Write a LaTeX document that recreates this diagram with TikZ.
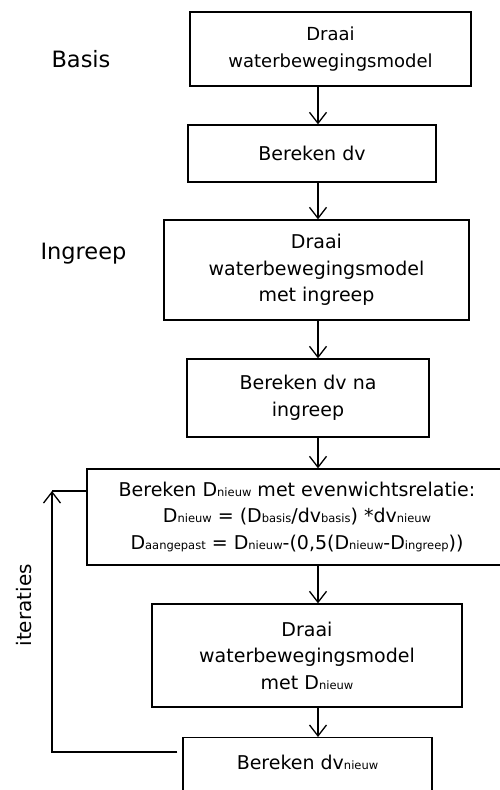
\documentclass[tikz,border=0pt]{standalone}
\usepackage{fontspec}
\setmainfont{DejaVu Sans}
\usetikzlibrary{arrows.meta}
\newcommand{\idx}[1]{{\fontsize{11.5}{11.5}\selectfont #1}}

\begin{document}
\begin{tikzpicture}[x=1pt,y=-1pt,
		stap/.style={draw, line width=1.3pt, inner sep=0pt, align=center, font=\fontsize{19}{26.5}\selectfont},
		kop/.style={font=\fontsize{22.5}{27}\selectfont, anchor=base west},
		pijl/.style={line width=1.3pt, -{Straight Barb[length=11pt,width=17pt]}}]
		\clip (0,0) rectangle (500,790);
		\node[kop] (basis) at (48,67) {Basis};
		\node[kop] (ingreep) at (37,259) {Ingreep};
		\node[font=\fontsize{20}{24}\selectfont, rotate=90, anchor=base west] (iter) at (31,650) {iteraties};
		\node[stap, font=\fontsize{18}{26.5}\selectfont, minimum width=281, minimum height=74] (model) at (330.5,49) {Draai\\waterbewegingsmodel};
		\node[stap, minimum width=248, minimum height=57] (dv) at (312,153.5) {Bereken dv};
		\node[stap, minimum width=305, minimum height=100] (ingreepmodel) at (316.5,270) {Draai\\waterbewegingsmodel\\met ingreep};
		\node[stap, minimum width=242, minimum height=78] (dvingreep) at (308,398) {Bereken dv na\\ingreep};
		\node[stap, minimum width=420, minimum height=96] (relatie) at (297,517) {Bereken D\idx{nieuw} met evenwichtsrelatie:\\D\idx{nieuw} = (D\idx{basis}/dv\idx{basis}) *dv\idx{nieuw}\\D\idx{aangepast} = D\idx{nieuw}-(0,5(D\idx{nieuw}-D\idx{ingreep}))};
		\node[stap, minimum width=310, minimum height=103] (modelnieuw) at (307,655.5) {Draai\\waterbewegingsmodel\\met D\idx{nieuw}};
		\node[stap, minimum width=249, minimum height=70, text depth=20pt, anchor=north] (dvnieuw) at (307.5,737) {Bereken dv\idx{nieuw}};
		\coordinate (as) at (318,0);
		\draw[pijl] (model.south -| as) -- (dv.north -| as);
		\draw[pijl] (dv.south -| as) -- (ingreepmodel.north -| as);
		\draw[pijl] (ingreepmodel.south -| as) -- (dvingreep.north -| as);
		\draw[pijl] (dvingreep.south -| as) -- (relatie.north -| as);
		\draw[pijl] (relatie.south -| as) -- (modelnieuw.north -| as);
		\draw[pijl] (modelnieuw.south -| as) -- (dvnieuw.north -| as);
		\coordinate (lus) at (52,491);
		\coordinate (terug) at (52,752);
		\draw[pijl] ([xshift=-5pt]terug -| dvnieuw.west) -- (terug) -- (lus);
		\draw[line width=1.3pt] (lus) -- (lus -| relatie.west);
	\end{tikzpicture}
\end{document}
